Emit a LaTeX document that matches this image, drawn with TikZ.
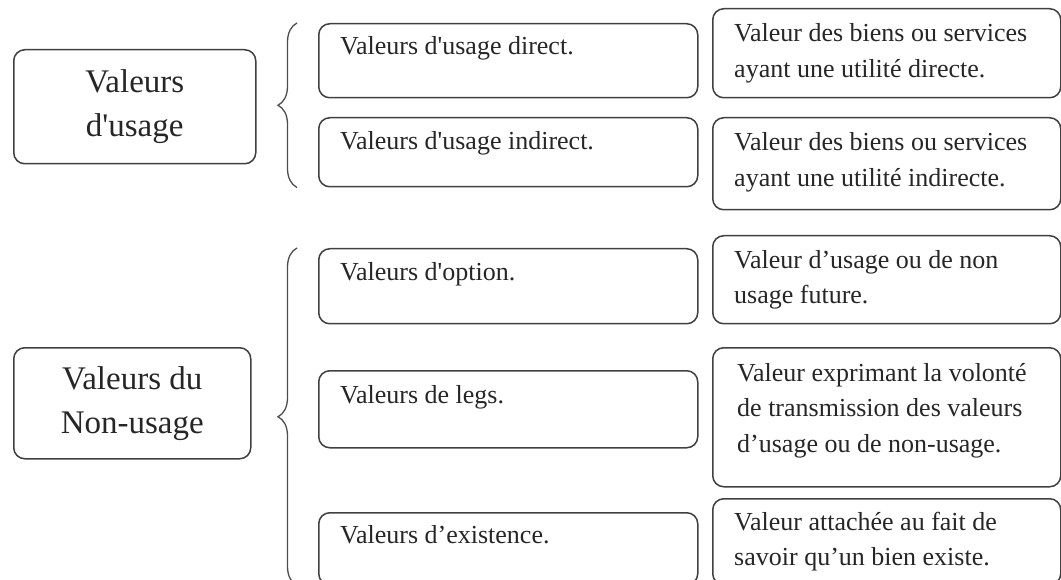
\documentclass[tikz,border=0pt]{standalone}
\usepackage{fontspec}
\setmainfont{Liberation Serif}
\usetikzlibrary{calc,decorations.pathreplacing}

\tikzset{
  cell/.style={draw=black!75,line width=1.5pt,rounded corners=11pt,anchor=north west,inner sep=0pt},
  head/.style={cell,font=\fontsize{33}{44}\selectfont,align=center,text=black!85},
  txt/.style={font=\fontsize{26}{35.5}\selectfont,align=left,anchor=base west,inner sep=0pt,text=black!85},
  curly/.style={decorate,decoration={brace,amplitude=19pt},draw=black!70,line width=1.3pt}
}

\begin{document}
\begin{tikzpicture}[x=1pt,y=-1pt]
\useasboundingbox (0,0) rectangle (1061,580);
\clip (0,0) rectangle (1061,580);
% left column
\node[head,minimum width=242,minimum height=114] (use) at (13,49) {Valeurs\\d\textquotesingle usage};
\node[head,minimum width=237,minimum height=111] (nonuse) at (13,347) {Valeurs du\\Non-usage};
% middle column
\node[cell,minimum width=379,minimum height=74] (dir) at (318,23) {};
\node[cell,minimum width=379,minimum height=69] (indir) at (318,117) {};
\node[cell,minimum width=379,minimum height=75] (opt) at (318,248) {};
\node[cell,minimum width=379,minimum height=77] (legs) at (318,370) {};
\node[cell,minimum width=379,minimum height=72] (exist) at (318,512) {};
\node[txt] (dirt) at ($(dir.north west)+(22,32)$) {Valeurs d\textquotesingle usage direct.};
\node[txt] (indirt) at ($(indir.north west)+(22,33)$) {Valeurs d\textquotesingle usage indirect.};
\node[txt] (optt) at ($(opt.north west)+(22,32)$) {Valeurs d\textquotesingle option.};
\node[txt] (legst) at ($(legs.north west)+(22,33)$) {Valeurs de legs.};
\node[txt] (existt) at ($(exist.north west)+(22,31)$) {Valeurs d’existence.};
% right column (base = last line)
\node[cell,minimum width=348,minimum height=89] (dirv) at (712,8) {};
\node[cell,minimum width=348,minimum height=92] (indirv) at (712,117) {};
\node[cell,minimum width=348,minimum height=88] (optv) at (712,235) {};
\node[cell,minimum width=348,minimum height=139] (legsv) at (712,347) {};
\node[cell,minimum width=348,minimum height=86] (existv) at (712,498) {};
\node[txt] (dirvt) at ($(dirv.north west)+(22,69.5)$) {Valeur des biens ou services\\ayant une utilité directe.};
\node[txt] (indirvt) at ($(indirv.north west)+(22,69.5)$) {Valeur des biens ou services\\ayant une utilité indirecte.};
\node[txt] (optvt) at ($(optv.north west)+(22,68.5)$) {Valeur d’usage ou de non\\usage future.};
\node[txt] (legsvt) at ($(legsv.north west)+(25,105)$) {Valeur exprimant la volonté\\de transmission des valeurs\\d’usage ou de non-usage.};
\node[txt] (existvt) at ($(existv.north west)+(22,67.5)$) {Valeur attachée au fait de\\savoir qu’un bien existe.};
% braces
\draw[curly] ($(indir.south west)+(-21,0)$) -- ($(dir.north west)+(-21,0)$);
\draw[curly] ($(exist.south west)+(-21,0)$) -- ($(opt.north west)+(-21,0)$);
\end{tikzpicture}
\end{document}
